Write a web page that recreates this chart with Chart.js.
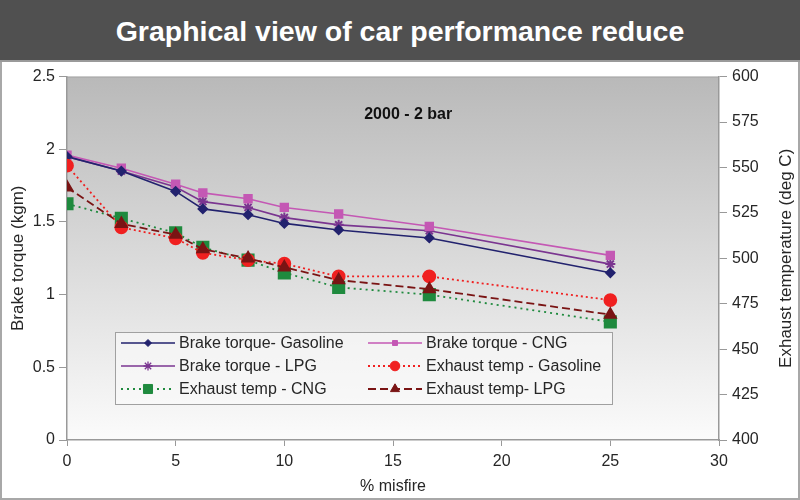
<!DOCTYPE html>
<html>
<head>
<meta charset="utf-8">
<script src="https://cdn.jsdelivr.net/npm/chart.js@4.4.1/dist/chart.umd.min.js"></script>
<style>
  html, body { margin: 0; padding: 0; background: #fff; }
  #wrap { position: relative; width: 800px; height: 500px; overflow: hidden; background: #fff; }
  #title { position: absolute; left: 0; top: 0; width: 800px; height: 62px; background: #505050;
           color: #fff; font-family: "Liberation Sans", Arial, sans-serif; font-weight: bold;
           font-size: 28.5px; line-height: 62px; text-align: center; border-bottom: 2px solid #9a9a9a; box-sizing: border-box; }
  #frame { position: absolute; left: 0; top: 62px; width: 800px; height: 438px; box-sizing: border-box;
           border-left: 2px solid #a8a8a8; border-right: 2px solid #a8a8a8; border-bottom: 2px solid #a8a8a8; }
  #c { position: absolute; left: 0; top: 62px; }
</style>
</head>
<body>
<div id="wrap">
  <div id="title">Graphical view of car performance reduce</div>
  <div id="frame"></div>
  <canvas id="c" width="800" height="438"></canvas>
</div>
<script>
// ---- data ----
const misfire = [0, 2.5, 5, 6.25, 8.33, 10, 12.5, 16.67, 25];
const torqueGasoline = [1.95, 1.85, 1.71, 1.59, 1.55, 1.49, 1.445, 1.39, 1.15];
const torqueCNG      = [1.96, 1.87, 1.76, 1.70, 1.66, 1.60, 1.555, 1.47, 1.27];
const torqueLPG      = [1.95, 1.85, 1.74, 1.64, 1.60, 1.53, 1.48, 1.44, 1.21];
const exhGasoline    = [551, 517, 511, 503, 499, 497, 490, 490, 477];
const exhCNG         = [530, 522, 514, 506, 499, 492, 484, 480, 465];
const exhLPG         = [539, 519, 513, 505, 500, 495, 488, 483, 469];
const xTicks = [0, 5, 10, 15, 20, 25, 30];
const leftTicks = [0, 0.5, 1, 1.5, 2, 2.5];
const rightTicks = [400, 425, 450, 475, 500, 525, 550, 575, 600];
const seriesNames = ["Brake torque- Gasoline", "Brake torque - CNG", "Brake torque - LPG",
                     "Exhaust temp - Gasoline", "Exhaust temp - CNG", "Exhaust temp- LPG"];
const xTitle = "% misfire";
const leftTitle = "Brake torque (kgm)";
const rightTitle = "Exhaust temperature (deg C)";
const annotationText = "2000 - 2 bar";

const pts = arr => arr.map((v, i) => ({ x: misfire[i], y: v }));
const FONT = "'Liberation Sans', Arial, sans-serif";
const TXT = '#262626';

const datasets = [
  { label: seriesNames[0], data: pts(torqueGasoline), yAxisID: 'y',
    borderColor: '#22226e', backgroundColor: '#22226e', borderWidth: 1.6,
    pointStyle: 'rectRot', pointRadius: 4.5, order: 3 },
  { label: seriesNames[1], data: pts(torqueCNG), yAxisID: 'y',
    borderColor: '#c458b4', backgroundColor: '#c458b4', borderWidth: 1.6,
    pointStyle: 'rect', pointRadius: 5.5, order: 3 },
  { label: seriesNames[2], data: pts(torqueLPG), yAxisID: 'y',
    borderColor: '#7a3590', backgroundColor: '#7a3590', borderWidth: 1.6,
    pointStyle: 'star', pointRadius: 5, pointBorderWidth: 2, order: 3 },
  { label: seriesNames[3], data: pts(exhGasoline), yAxisID: 'y1',
    borderColor: '#f02020', backgroundColor: '#f02020', borderWidth: 1.8, borderDash: [2, 3],
    pointStyle: 'circle', pointRadius: 6, order: 2 },
  { label: seriesNames[4], data: pts(exhCNG), yAxisID: 'y1',
    borderColor: '#1f8a3e', backgroundColor: '#1f8a3e', borderWidth: 1.8, borderDash: [2, 4],
    pointStyle: 'rect', pointRadius: 8, order: 2 },
  { label: seriesNames[5], data: pts(exhLPG), yAxisID: 'y1',
    borderColor: '#7a1414', backgroundColor: '#7a1414', borderWidth: 1.8, borderDash: [8, 4],
    pointStyle: 'triangle', pointRadius: 6.5, order: 1 }
];
datasets.forEach(d => { d.tension = 0; d.fill = false; d.pointBorderColor = d.borderColor; d.pointHoverRadius = d.pointRadius; });

const bgPlugin = {
  id: 'bg',
  beforeDraw(chart) {
    const { ctx, chartArea: a } = chart;
    const g = ctx.createLinearGradient(0, a.top, 0, a.bottom);
    g.addColorStop(0, '#b9b9b9');
    g.addColorStop(1, '#fbfbfb');
    ctx.save();
    ctx.fillStyle = g;
    ctx.fillRect(a.left, a.top, a.right - a.left, a.bottom - a.top);
    ctx.strokeStyle = '#a6a6a6';
    ctx.lineWidth = 1;
    ctx.beginPath();
    ctx.moveTo(a.left, a.top + 0.5);
    ctx.lineTo(a.right, a.top + 0.5);
    ctx.stroke();
    ctx.restore();
  },
  afterDatasetsDraw(chart) {
    const { ctx, chartArea: a } = chart;
    const xs = chart.scales.x, ys = chart.scales.y;
    ctx.save();
    ctx.font = "bold 16px " + FONT;
    ctx.fillStyle = '#111';
    ctx.textAlign = 'center';
    ctx.textBaseline = 'middle';
    ctx.fillText(annotationText, xs.getPixelForValue(15.7), ys.getPixelForValue(2.24));
    // right axis title, reading bottom-to-top
    ctx.font = "17px " + FONT;
    ctx.fillStyle = TXT;
    ctx.translate(786, (a.top + a.bottom) / 2);
    ctx.rotate(-Math.PI / 2);
    ctx.fillText(rightTitle, 0, 0);
    ctx.restore();
  }
};

const legendPlugin = {
  id: 'customLegend',
  afterDraw(chart) {
    const { ctx } = chart;
    const box = { x: 115.5, y: 332 - 62 + 0.5, w: 497, h: 72 };
    ctx.save();
    ctx.fillStyle = 'rgba(250,250,250,0.6)';
    ctx.fillRect(box.x, box.y, box.w, box.h);
    ctx.strokeStyle = '#a0a0a0';
    ctx.lineWidth = 1;
    ctx.strokeRect(box.x, box.y, box.w, box.h);
    const cols = [{ l0: 121, l1: 175, t: 179 }, { l0: 368, l1: 422, t: 426 }];
    const rows = [343 - 62, 366 - 62, 389 - 62];
    ctx.font = "16px " + FONT;
    ctx.textBaseline = 'middle';
    chart.data.datasets.forEach((d, i) => {
      const c = cols[i % 2], y = rows[Math.floor(i / 2)];
      ctx.strokeStyle = d.borderColor;
      ctx.lineWidth = d.borderWidth;
      ctx.setLineDash(d.borderDash || []);
      ctx.beginPath();
      ctx.moveTo(c.l0, y);
      ctx.lineTo(c.l1, y);
      ctx.stroke();
      ctx.setLineDash([]);
      ctx.fillStyle = d.backgroundColor;
      ctx.strokeStyle = d.borderColor;
      ctx.lineWidth = d.pointStyle === 'star' ? 1.3 : 1;
      const r = i < 3 ? (d.pointStyle === 'star' ? 4.5 : 3.5) : d.pointRadius * 0.8;
      Chart.helpers.drawPoint(ctx, { pointStyle: d.pointStyle, rotation: 0, radius: r, borderWidth: ctx.lineWidth }, (c.l0 + c.l1) / 2, y);
      ctx.fillStyle = TXT;
      ctx.textAlign = 'left';
      ctx.fillText(d.label, c.t, y + 1);
    });
    ctx.restore();
  }
};

const fixWidth = w => (scale) => { scale.width = w; };
const tickFont = { family: FONT, size: 16 };

new Chart(document.getElementById('c'), {
  type: 'line',
  data: { datasets },
  plugins: [bgPlugin, legendPlugin],
  options: {
    responsive: false,
    animation: false,
    layout: { padding: { top: 13, left: 0, right: 0, bottom: 0 } },
    plugins: { legend: { display: false }, tooltip: { enabled: false }, title: { display: false } },
    scales: {
      x: {
        type: 'linear', min: 0, max: 30,
        afterBuildTicks: s => { s.ticks = xTicks.map(v => ({ value: v })); },
        afterFit: s => { s.height = 60; },
        grid: { drawOnChartArea: false, color: '#999', tickLength: 6 },
        border: { color: '#999', width: 1.5 },
        ticks: { color: TXT, font: tickFont, padding: 6, callback: v => String(v) },
        title: { display: true, text: xTitle, color: TXT, font: { family: FONT, size: 16 }, padding: { top: 0, bottom: 4 } }
      },
      y: {
        type: 'linear', position: 'left', min: 0, max: 2.5,
        afterBuildTicks: s => { s.ticks = leftTicks.map(v => ({ value: v })); },
        afterFit: fixWidth(67),
        grid: { drawOnChartArea: false, color: '#999', tickLength: 8 },
        border: { color: '#999', width: 1.5 },
        ticks: { color: TXT, font: tickFont, padding: 4, callback: v => String(v) },
        title: { display: true, text: leftTitle, color: TXT, font: { family: FONT, size: 17 }, padding: { top: 8, bottom: 0 } }
      },
      y1: {
        type: 'linear', position: 'right', min: 400, max: 600,
        afterBuildTicks: s => { s.ticks = rightTicks.map(v => ({ value: v })); },
        afterFit: fixWidth(81),
        grid: { drawOnChartArea: false, color: '#999', tickLength: 8 },
        border: { color: '#999', width: 1.5 },
        ticks: { color: TXT, font: tickFont, padding: 5, callback: v => String(v) },
        title: { display: false }
      }
    }
  }
});
</script>
</body>
</html>
